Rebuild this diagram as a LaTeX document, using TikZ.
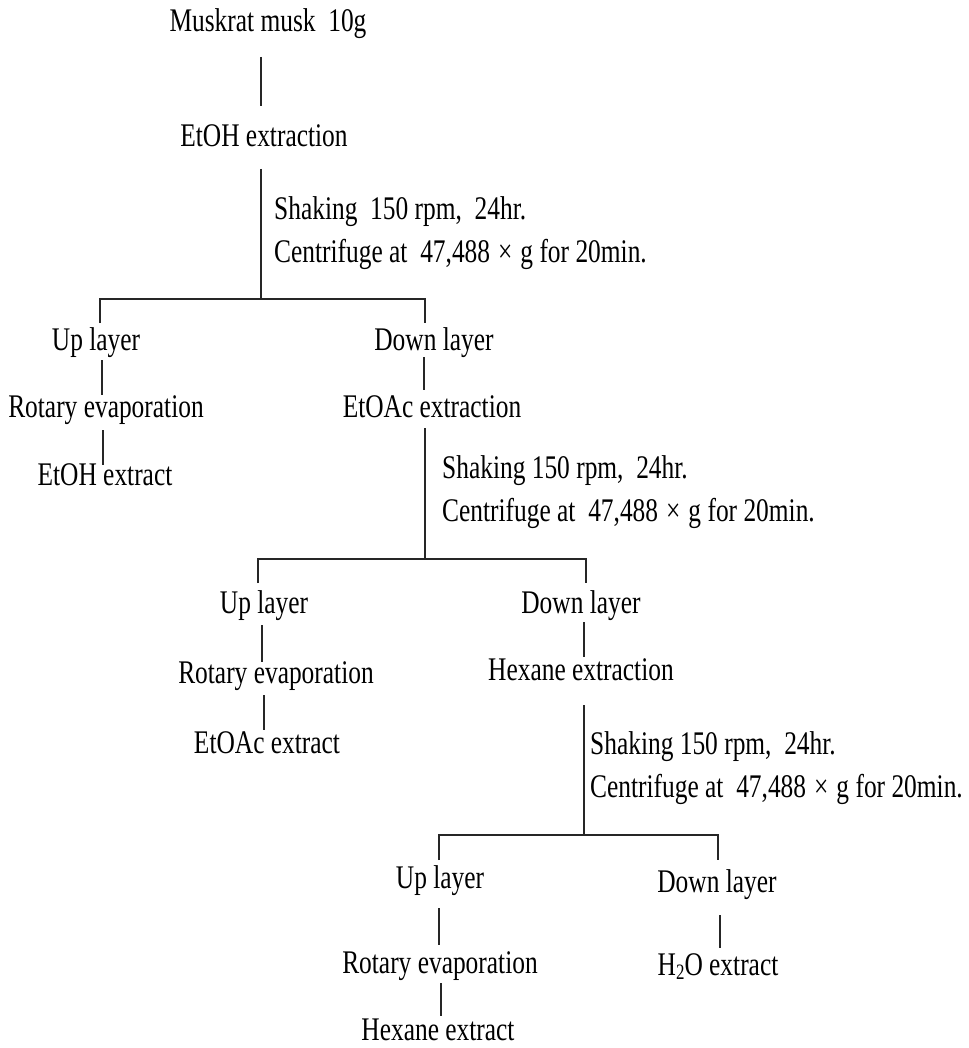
\documentclass[tikz,border=0pt]{standalone}
\usepackage{fontspec}
\setmainfont{Liberation Serif}[FakeStretch=0.77]
\newcommand{\tms}{\hspace{8pt}×\hspace{8pt}}
\begin{document}
\begin{tikzpicture}[x=1pt,y=-1pt,
  lbl/.style={inner sep=0pt,anchor=base,font=\fontsize{33}{37}\selectfont},
  note/.style={inner sep=0pt,anchor=base west,font=\fontsize{33}{37}\selectfont},
  conn/.style={line width=1.4pt,draw=black!85}]
\useasboundingbox[fill=white] (0,0) rectangle (968,1048);
% texts
\node[lbl] (musk) at (268,32) {Muskrat musk\ \ 10g};
\node[lbl] (etoh) at (264,147) {EtOH extraction};
\node[note] (s1a) at (274,220) {Shaking\ \ 150 rpm,\ \ 24hr.};
\node[note] (s1b) at (274,263) {Centrifuge at\ \ 47,488\tms{}g for 20min.};
\node[lbl] (up1) at (96,350) {Up layer};
\node[lbl] (down1) at (434,350) {Down layer};
\node[lbl] (rot1) at (106,417) {Rotary evaporation};
\node[lbl] (etohx) at (105,485) {EtOH extract};
\node[lbl] (etoac) at (432,417) {EtOAc extraction};
\node[note] (s2a) at (442,478) {Shaking 150 rpm,\ \ 24hr.};
\node[note] (s2b) at (442,521) {Centrifuge at\ \ 47,488\tms{}g for 20min.};
\node[lbl] (up2) at (264,613) {Up layer};
\node[lbl] (down2) at (581,613) {Down layer};
\node[lbl] (rot2) at (276,683) {Rotary evaporation};
\node[lbl] (etoacx) at (267,753) {EtOAc extract};
\node[lbl] (hex) at (581,680) {Hexane extraction};
\node[note] (s3a) at (590,754) {Shaking 150 rpm,\ \ 24hr.};
\node[note] (s3b) at (590,797) {Centrifuge at\ \ 47,488\tms{}g for 20min.};
\node[lbl] (up3) at (440,888) {Up layer};
\node[lbl] (down3) at (717,892) {Down layer};
\node[lbl] (rot3) at (440,973) {Rotary evaporation};
\node[lbl] (hexx) at (438,1040) {Hexane extract};
\node[lbl] (h2o) at (718,975) {H\raisebox{-0.3ex}{\fontsize{22}{22}\selectfont 2}O extract};
% connector end points
\coordinate (a1) at (261,57);  \coordinate (a2) at (261,106);
\coordinate (b1) at (261,169); \coordinate (j1) at (261,299);
\coordinate (j1l) at (100,299); \coordinate (j1r) at (425,299);
\coordinate (t1) at (100,323); \coordinate (t2) at (425,323);
\coordinate (c1) at (102,360); \coordinate (c2) at (102,395);
\coordinate (d1) at (103,430); \coordinate (d2) at (103,465);
\coordinate (e1) at (424,357); \coordinate (e2) at (424,390);
\coordinate (f1) at (425,428); \coordinate (j2) at (425,559);
\coordinate (j2l) at (258,559); \coordinate (j2r) at (586,559);
\coordinate (t3) at (258,583); \coordinate (t4) at (586,583);
\coordinate (g1) at (262,625); \coordinate (g2) at (262,662);
\coordinate (h1) at (264,695); \coordinate (h2) at (264,730);
\coordinate (i1) at (584,622); \coordinate (i2) at (584,657);
\coordinate (k1) at (584,705); \coordinate (j3) at (584,835);
\coordinate (j3l) at (439,835); \coordinate (j3r) at (718,835);
\coordinate (t5) at (439,860); \coordinate (t6) at (718,860);
\coordinate (m1) at (439,908); \coordinate (m2) at (439,945);
\coordinate (n1) at (441,983); \coordinate (n2) at (441,1016);
\coordinate (o1) at (720,915); \coordinate (o2) at (720,948);
% connectors
\draw[conn] (a1) -- (a2);
\draw[conn] (b1) -- (j1);
\draw[conn] (t1) -- (j1l) -- (j1r) -- (t2);
\draw[conn] (c1) -- (c2);
\draw[conn] (d1) -- (d2);
\draw[conn] (e1) -- (e2);
\draw[conn] (f1) -- (j2);
\draw[conn] (t3) -- (j2l) -- (j2r) -- (t4);
\draw[conn] (g1) -- (g2);
\draw[conn] (h1) -- (h2);
\draw[conn] (i1) -- (i2);
\draw[conn] (k1) -- (j3);
\draw[conn] (t5) -- (j3l) -- (j3r) -- (t6);
\draw[conn] (m1) -- (m2);
\draw[conn] (n1) -- (n2);
\draw[conn] (o1) -- (o2);
\end{tikzpicture}
\end{document}
